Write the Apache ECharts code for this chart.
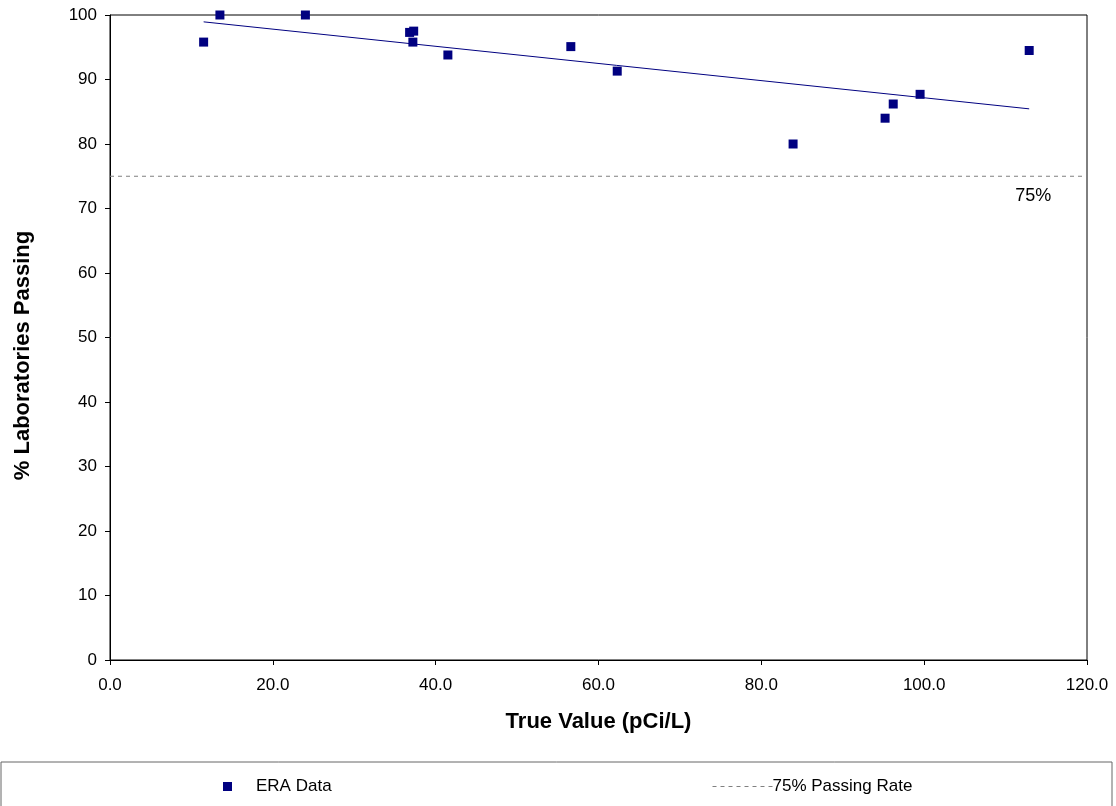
<!DOCTYPE html>
<html>
<head>
<meta charset="utf-8">
<script src="https://cdn.jsdelivr.net/npm/echarts@6/dist/echarts.min.js"></script>
<style>html,body{margin:0;padding:0;background:#fff;}#c{width:1116px;height:806px;}</style>
</head>
<body>
<div id="c"></div>
<script>
const trueValues = [11.5, 13.5, 24.0, 36.8, 37.3, 37.2, 41.5, 56.6, 62.3, 83.9, 95.2, 96.2, 99.5, 112.9];
const pctPassing = [95.8, 100, 100, 97.3, 97.5, 95.8, 93.8, 95.1, 91.3, 80.0, 84.0, 86.2, 87.7, 94.5];
const passingRate = 75;
const xTicks = [0, 20, 40, 60, 80, 100, 120];
const yTicks = [0, 10, 20, 30, 40, 50, 60, 70, 80, 90, 100];

// least-squares trend line from the data
const n = trueValues.length;
const mx = trueValues.reduce((a, b) => a + b, 0) / n;
const my = pctPassing.reduce((a, b) => a + b, 0) / n;
let sxy = 0, sxx = 0;
for (let i = 0; i < n; i++) { sxy += (trueValues[i] - mx) * (pctPassing[i] - my); sxx += (trueValues[i] - mx) ** 2; }
const slope = sxy / sxx, intercept = my - slope * mx;
const xMinD = Math.min(...trueValues), xMaxD = Math.max(...trueValues);
const trend = [[xMinD, intercept + slope * xMinD], [xMaxD, intercept + slope * xMaxD]];

const font = 'Liberation Sans, Arial, sans-serif';
const chart = echarts.init(document.getElementById('c'), null, {renderer: 'canvas'});
chart.setOption({
  animation: false,
  textStyle: {fontFamily: font},
  grid: {left: 110, right: 29, top: 15, bottom: 146, show: true, borderColor: '#000', borderWidth: 1, containLabel: false},
  xAxis: {
    type: 'value', min: xTicks[0], max: xTicks[xTicks.length - 1], interval: 20,
    name: 'True Value (pCi/L)', nameLocation: 'middle', nameGap: 51,
    nameTextStyle: {fontSize: 22, fontWeight: 'bold', color: '#000', fontFamily: font},
    axisLine: {lineStyle: {color: '#000', width: 1}},
    axisTick: {show: true, length: 5, lineStyle: {color: '#000'}},
    axisLabel: {color: '#000', fontSize: 17, margin: 17, fontFamily: font, formatter: v => v.toFixed(1)},
    splitLine: {show: false}
  },
  yAxis: {
    type: 'value', min: yTicks[0], max: yTicks[yTicks.length - 1], interval: 10,
    name: '% Laboratories Passing', nameLocation: 'middle', nameGap: 76,
    nameTextStyle: {fontSize: 22, fontWeight: 'bold', color: '#000', fontFamily: font, padding: [0, 0, 0, -36]},
    axisLine: {lineStyle: {color: '#000', width: 1}},
    axisTick: {show: true, length: 5, lineStyle: {color: '#000'}},
    axisLabel: {color: '#000', fontSize: 17, margin: 13, fontFamily: font},
    splitLine: {show: false}
  },
  legend: [
    {data: [{name: 'ERA Data', icon: 'rect'}], left: 218, top: 773, itemWidth: 9, itemHeight: 9, itemGap: 0,
     textStyle: {fontSize: 17, color: '#000', fontFamily: font, padding: [0, 0, 0, 19]}},
    {data: ['75% Passing Rate'], left: 707, top: 773, itemWidth: 60, itemHeight: 14,
     itemStyle: {opacity: 0},
     lineStyle: {color: '#808080', width: 1, type: [4, 4]},
     textStyle: {fontSize: 17, color: '#000', fontFamily: font, padding: [0, 0, 0, -5]}}
  ],
  graphic: [{type: 'rect', shape: {x: 1, y: 762, width: 1111, height: 60}, style: {fill: 'none', stroke: '#666', lineWidth: 1}, silent: true}],
  series: [
    {
      name: 'ERA Data', type: 'scatter', symbol: 'rect', symbolSize: 9,
      itemStyle: {color: '#000080', opacity: 1},
      data: trueValues.map((x, i) => [x, pctPassing[i]]), z: 5
    },
    {
      name: 'Trend', type: 'line', data: trend, symbol: 'none',
      lineStyle: {color: '#000080', width: 1}, z: 4
    },
    {
      name: '75% Passing Rate', type: 'line', symbol: 'none',
      data: [[xTicks[0], passingRate], [xTicks[xTicks.length - 1], passingRate]],
      lineStyle: {color: '#808080', width: 1, type: [4, 4]},
      itemStyle: {color: '#808080'},
      markPoint: {
        symbol: 'circle', symbolSize: 0,
        data: [{coord: [113.4, passingRate], value: '75%'}],
        label: {show: true, position: 'bottom', distance: 11, formatter: '75%', color: '#000', fontSize: 18, fontFamily: font}
      }
    }
  ]
});
</script>
</body>
</html>
